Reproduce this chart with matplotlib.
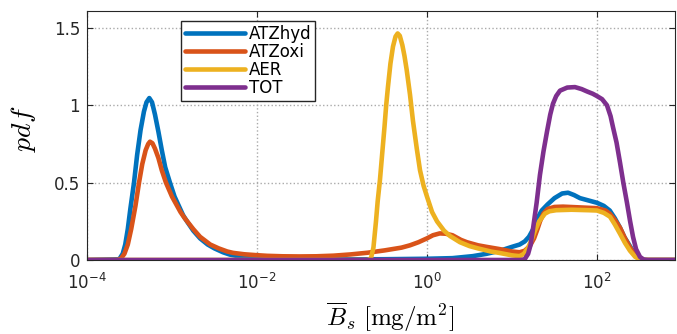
import numpy as np
import matplotlib
matplotlib.use("Agg")
import matplotlib.pyplot as plt

plt.rcParams['font.family'] = ['DejaVu Sans']
plt.rcParams['mathtext.fontset'] = 'dejavusans'

# curve points: log10(B_s) and pdf
hyd_logx = [-4, -3.62, -3.58, -3.55, -3.52, -3.49, -3.447, -3.41, -3.37, -3.33, -3.30, -3.267,
            -3.235, -3.20, -3.16, -3.12, -3.08, -3.024, -2.97, -2.92, -2.87, -2.824, -2.75,
            -2.67, -2.58, -2.5, -2.4, -2.32, -2.2, -2.1, -1.95, -1.8, -1.5, -1.0, -0.5, 0.0,
            0.3, 0.54, 0.7, 0.86, 1.0, 1.09, 1.15, 1.2, 1.25, 1.3, 1.35, 1.42, 1.5, 1.59, 1.66,
            1.73, 1.80, 1.9, 2.0, 2.08, 2.15, 2.21, 2.27, 2.32, 2.365, 2.42, 2.47, 2.52, 2.56,
            2.918]
hyd_pdf = [0, 0.005, 0.04, 0.1, 0.2, 0.33, 0.5, 0.68, 0.84, 0.96, 1.02, 1.047,
           1.02, 0.94, 0.83, 0.71, 0.6, 0.5, 0.41, 0.35, 0.29, 0.25, 0.19,
           0.14, 0.1, 0.075, 0.05, 0.035, 0.022, 0.014, 0.008, 0.005, 0.004, 0.004, 0.005, 0.008,
           0.012, 0.025, 0.04, 0.06, 0.085, 0.1, 0.12, 0.15, 0.2, 0.27, 0.32, 0.36, 0.4, 0.43, 0.435,
           0.42, 0.40, 0.385, 0.37, 0.35, 0.32, 0.27, 0.21, 0.15, 0.11, 0.06, 0.02, 0.005, 0,
           0]

oxi_logx = [-4, -3.64, -3.6, -3.56, -3.52, -3.48, -3.43, -3.388, -3.35, -3.31, -3.28, -3.259,
            -3.23, -3.2, -3.16, -3.12, -3.071, -3.0, -2.95, -2.9, -2.85, -2.75, -2.67, -2.55,
            -2.45, -2.35, -2.28, -2.15, -2.0, -1.88, -1.7, -1.5, -1.3, -1.1, -0.9, -0.7, -0.5,
            -0.3, -0.2, -0.1, 0.0, 0.07, 0.15, 0.22, 0.3, 0.4, 0.47, 0.6, 0.7, 0.86, 1.0, 1.09,
            1.15, 1.21, 1.26, 1.30, 1.33, 1.37, 1.42, 1.5, 1.6, 1.8, 2.0, 2.1, 2.15, 2.21, 2.27,
            2.33, 2.39, 2.45, 2.51, 2.56, 2.918]
oxi_pdf = [0, 0, 0.01, 0.04, 0.1, 0.2, 0.35, 0.5, 0.62, 0.71, 0.75, 0.765,
           0.755, 0.72, 0.66, 0.58, 0.5, 0.41, 0.36, 0.31, 0.27, 0.2, 0.15, 0.1,
           0.075, 0.055, 0.046, 0.037, 0.031, 0.027, 0.024, 0.023, 0.024, 0.028, 0.036, 0.047, 0.062,
           0.08, 0.095, 0.115, 0.14, 0.16, 0.172, 0.17, 0.16, 0.13, 0.115, 0.095, 0.085, 0.07, 0.055, 0.05,
           0.06, 0.09, 0.14, 0.2, 0.25, 0.3, 0.33, 0.343, 0.345, 0.34, 0.335, 0.32, 0.3, 0.26, 0.21,
           0.14, 0.08, 0.03, 0.005, 0, 0]

aer_logx = [-4, -0.70, -0.66, -0.63, -0.60, -0.58, -0.553, -0.525, -0.50, -0.48, -0.459, -0.43,
            -0.40, -0.37, -0.345, -0.32, -0.29, -0.265, -0.239, -0.20, -0.165, -0.12, -0.082,
            -0.04, 0.0, 0.06, 0.118, 0.2, 0.271, 0.388, 0.5, 0.6, 0.75, 0.86, 1.0, 1.09, 1.14,
            1.19, 1.23, 1.271, 1.32, 1.388, 1.44, 1.52, 1.7, 1.9, 2.0, 2.08, 2.153, 2.21, 2.271,
            2.33, 2.388, 2.45, 2.506, 2.55, 2.918]
aer_pdf = [0, 0, 0.01, 0.08, 0.25, 0.38, 0.52, 0.7, 0.86, 1.0, 1.12, 1.27,
           1.38, 1.445, 1.465, 1.45, 1.39, 1.32, 1.23, 1.07, 0.9, 0.72, 0.58,
           0.48, 0.41, 0.31, 0.25, 0.19, 0.155, 0.115, 0.09, 0.075, 0.055, 0.045, 0.03, 0.025, 0.04,
           0.08, 0.13, 0.19, 0.25, 0.30, 0.315, 0.322, 0.325, 0.322, 0.32, 0.305, 0.28, 0.23, 0.17,
           0.11, 0.06, 0.02, 0.003, 0, 0]

tot_logx = [-4, 1.10, 1.15, 1.19, 1.22, 1.247, 1.29, 1.329, 1.37, 1.412, 1.45, 1.482, 1.52,
            1.565, 1.65, 1.741, 1.82, 1.882, 1.95, 2.0, 2.06, 2.118, 2.16, 2.188, 2.23, 2.271,
            2.31, 2.353, 2.39, 2.424, 2.46, 2.506, 2.55, 2.6, 2.918]
tot_pdf = [0, 0, 0.005, 0.04, 0.1, 0.2, 0.37, 0.55, 0.7, 0.83, 0.94, 1.01, 1.06,
           1.095, 1.115, 1.118, 1.105, 1.09, 1.075, 1.06, 1.04, 1.0, 0.93, 0.86, 0.76, 0.63,
           0.5, 0.37, 0.25, 0.15, 0.07, 0.02, 0.003, 0, 0]

names = ['ATZhyd', 'ATZoxi', 'AER', 'TOT']
colors = ['#0072BD', '#D95319', '#EDB120', '#7E2F8E']

fig = plt.figure(figsize=(6.77, 3.34), dpi=100)
ax = fig.add_axes([87 / 677, 74 / 334, 588 / 677, 249 / 334])

series = [(hyd_logx, hyd_pdf), (oxi_logx, oxi_pdf), (aer_logx, aer_pdf), (tot_logx, tot_pdf)]
for (lx, p), name, c in zip(series, names, colors):
    ax.plot(10 ** np.array(lx), p, color=c, lw=3.3, label=name,
            solid_capstyle='round', solid_joinstyle='round')

ax.set_xscale('log')
ax.set_xlim(1e-4, 10 ** 2.918)
ax.set_ylim(0, 1.61)
ax.set_xticks([1e-4, 1e-2, 1, 1e2])
ax.set_xticklabels([r'$10^{-4}$', r'$10^{-2}$', r'$10^{0}$', r'$10^{2}$'])
ax.xaxis.set_minor_locator(matplotlib.ticker.NullLocator())
ax.set_yticks([0, 0.5, 1, 1.5])
ax.set_yticklabels(['0', '0.5', '1', '1.5'])
ax.grid(True, color='#aaaaaa', linestyle=':', lw=1)
ax.tick_params(direction='in', top=True, right=True, length=4, labelsize=12,
               colors='#262626', width=0.8)
ax.tick_params(axis='x', pad=9)
ax.tick_params(axis='y', pad=5)
for s in ax.spines.values():
    s.set_color('#262626')
    s.set_linewidth(0.8)

ax.set_xlabel(r'$\overline{B}_s\ [\mathrm{mg/m^2}]$', fontsize=18, math_fontfamily='cm')
ax.xaxis.set_label_coords(0.515, -0.165)
ax.set_ylabel(r'$pdf$', fontsize=20, math_fontfamily='cm')
ax.yaxis.set_label_coords(-0.083, 0.526)

leg = ax.legend(loc='upper left', bbox_to_anchor=(0.16, 0.96), fontsize=12,
                handlelength=3.6, handletextpad=0.2, labelspacing=0.0,
                borderpad=0.25, borderaxespad=0, fancybox=False, framealpha=1)
leg.get_frame().set_edgecolor('#262626')
leg.get_frame().set_linewidth(1)

fig.savefig('out.png', dpi=100)
